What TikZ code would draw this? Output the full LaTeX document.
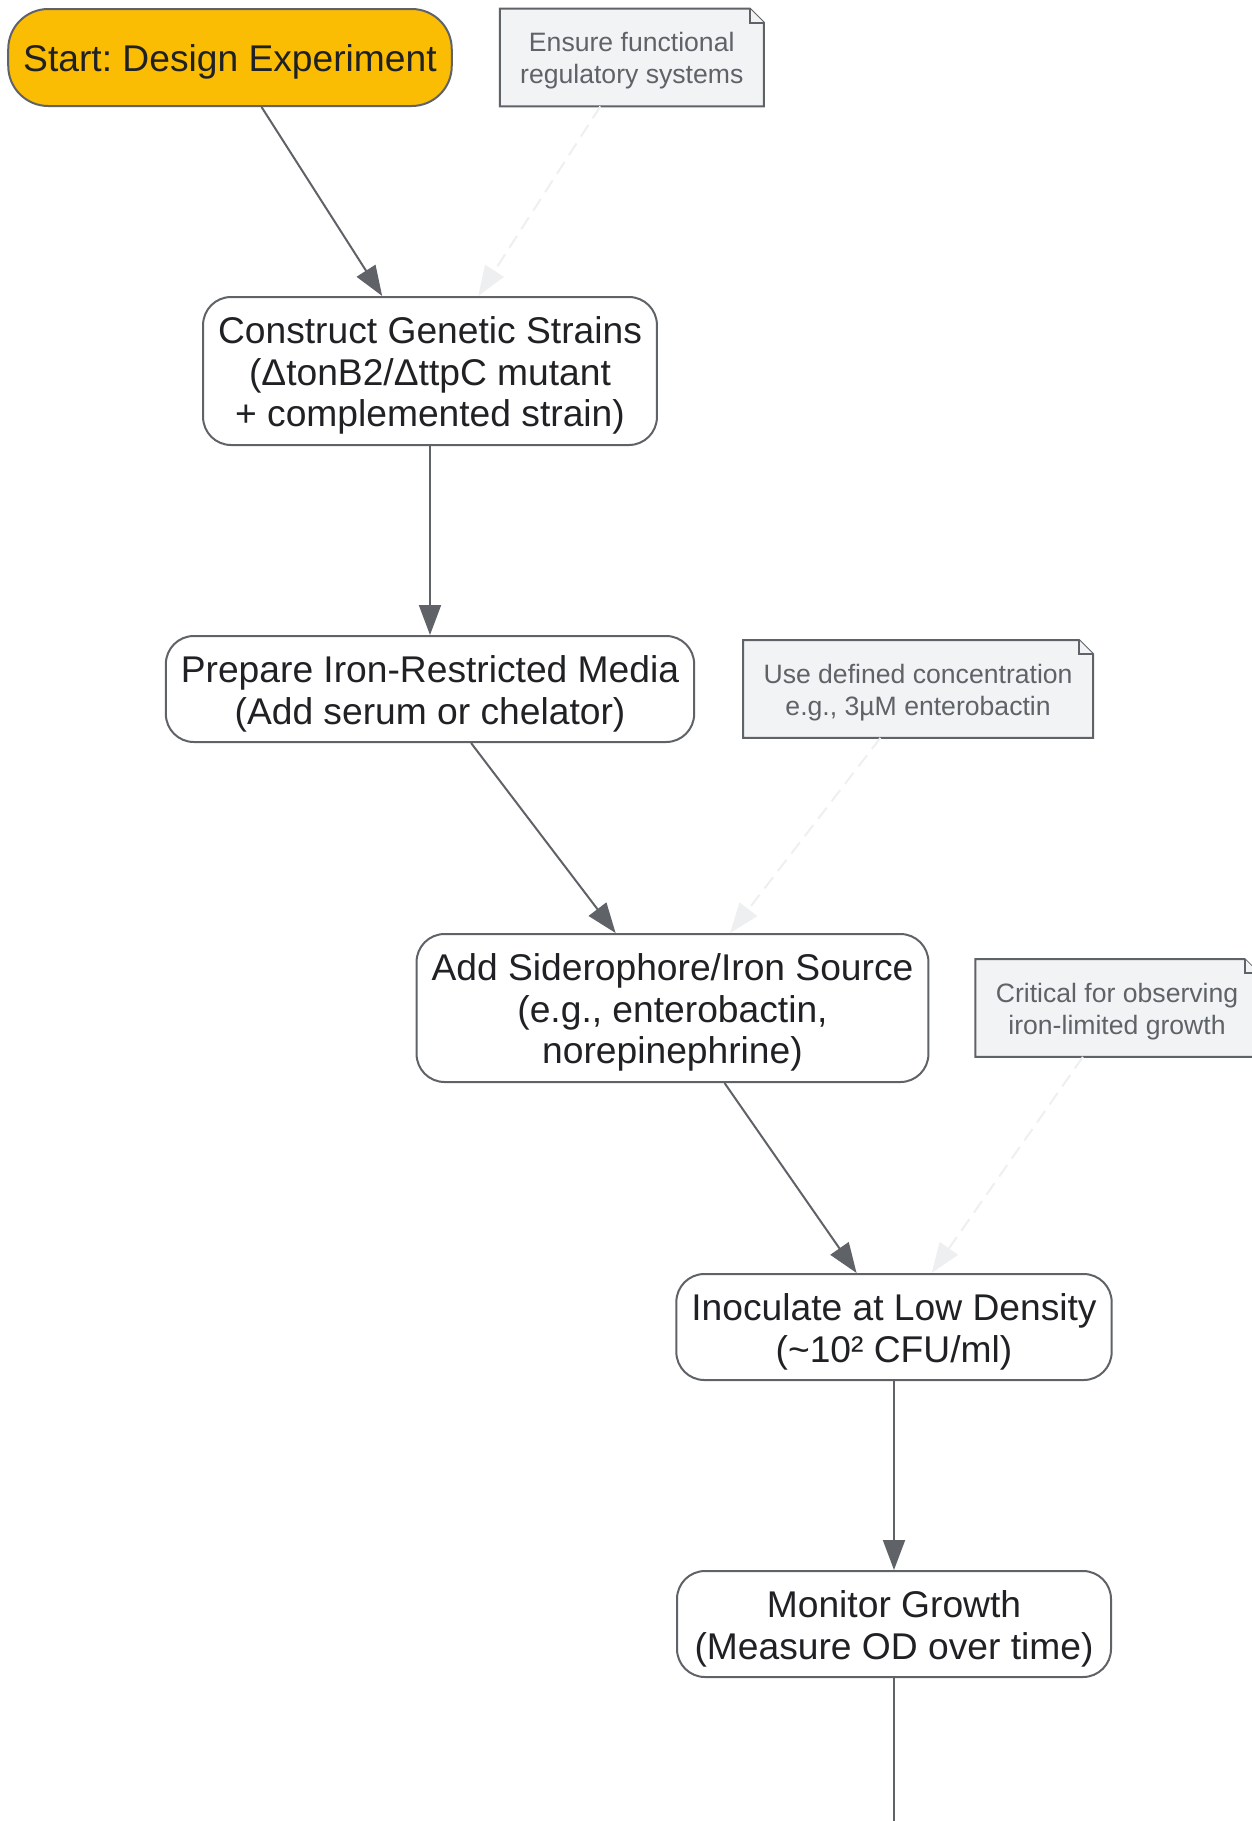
\documentclass[tikz,border=0pt]{standalone}
\usepackage{fontspec}
\setmainfont{Liberation Sans}
\frenchspacing
\usetikzlibrary{positioning,arrows.meta,backgrounds}
\definecolor{startyellow}{HTML}{FBBC04}
\definecolor{edgegray}{HTML}{5F6368}
\definecolor{notefill}{HTML}{F1F3F4}
\definecolor{hintgray}{HTML}{EEEFF0}
\definecolor{textdark}{HTML}{202124}
\newcommand{\boxstrut}{\rule{0pt}{18pt}}
\newcommand{\notestrut}{\rule{0pt}{13pt}}
\tikzset{startbox/.style={rectangle,rounded corners=20pt,draw=edgegray,line width=1pt,fill=startyellow,text=textdark,inner xsep=7.5pt,minimum height=48.5pt,align=center,font=\fontsize{18.6pt}{20.9pt}\selectfont},
	 stepbox/.style={rectangle,rounded corners=14pt,draw=edgegray,line width=1pt,fill=white,text=textdark,inner xsep=7.5pt,minimum height=53pt,align=center,font=\fontsize{18.6pt}{20.9pt}\selectfont},
	 notebox/.style={rectangle,inner xsep=10pt,minimum height=48.5pt,align=center,text=edgegray,font=\fontsize{13.3pt}{16.25pt}\selectfont},
	 notepen/.style={draw=edgegray,line width=1pt,fill=notefill},
	 flow/.style={draw=edgegray,line width=1pt,-{Triangle[length=15pt,width=11pt]}},
	 hint/.style={draw=hintgray,line width=1pt,dash pattern=on 7pt off 4pt,-{Triangle[length=15pt,width=11pt]}},
	 node distance = 94.5pt
	 }
\begin{document}
\begin{tikzpicture} % siderophore growth assay workflow
	\useasboundingbox (0pt,0pt) rectangle (626pt,-910.5pt);
	\node[startbox] (start) at (115pt,-28.75pt) {\boxstrut Start: Design Experiment};
	\node[notebox] (note1) [right=23.5pt of start] {\notestrut Ensure functional\\regulatory systems};
	\node[stepbox,minimum height=74pt] (strains) [below=of start,xshift=100pt] {\boxstrut Construct Genetic Strains\\(ΔtonB2/ΔttpC mutant\\+ complemented strain)};
	\node[stepbox] (media) [below=of strains] {\boxstrut Prepare Iron-Restricted Media\\(Add serum or chelator)};
	\node[notebox] (note2) [right=24pt of media] {\notestrut Use defined concentration\\e.g., 3µM enterobactin};
	\node[stepbox,minimum height=74pt] (source) [below=95pt of media,xshift=121.25pt] {\boxstrut Add Siderophore/Iron Source\\(e.g., enterobactin,\\norepinephrine)};
	\node[notebox] (note3) [right=23pt of source] {\notestrut Critical for observing\\iron-limited growth};
	\node[stepbox] (inoc) [below=95pt of source,xshift=110.75pt] {\boxstrut Inoculate at Low Density\\(\textasciitilde10² CFU/ml)};
	\node[stepbox,minimum width=217pt] (monitor) [below=of inoc] {\boxstrut Monitor Growth\\(Measure OD over time)};
	\coordinate (tail) at ([yshift=-80pt]monitor.south);
	% notes with folded corner
	\begin{scope}[on background layer]
	\foreach \n in {note1,note2,note3} {
		\filldraw[notepen] (\n.south west) -- (\n.north west) -- ([xshift=-7pt]\n.north east) -- ([yshift=-7pt]\n.north east) -- (\n.south east) -- cycle;
		\draw[notepen] ([xshift=-7pt]\n.north east) |- ([yshift=-7pt]\n.north east);
	}
	\end{scope}
	\draw[flow] (start) to (strains);
	\draw[flow] (strains) to (media);
	\draw[flow] (media) to (source);
	\draw[flow] (source) to (inoc);
	\draw[flow] (inoc) to (monitor);
	\draw[draw=edgegray,line width=1pt] (monitor) to (tail);
	\draw[hint] (note1) to (strains);
	\draw[hint] (note2) to (source);
	\draw[hint] (note3) to (inoc);
\end{tikzpicture}
\end{document}
